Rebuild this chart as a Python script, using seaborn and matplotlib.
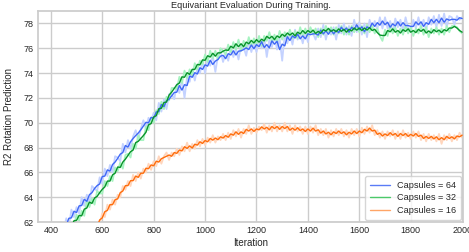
import numpy as np
import pandas as pd
import seaborn as sns
import matplotlib.pyplot as plt
from matplotlib.lines import Line2D

# raw R2 values every 10 iterations
iters_64 = list(range(400, 2001, 10))
r2_64 = [
    60.9, 60.4, 61.5, 61.0, 62.0, 61.3, 62.3, 61.6, 63.0, 62.4,
    63.2, 62.7, 64.0, 63.3, 64.2, 63.5, 64.9, 64.7, 64.5, 65.6,
    65.1, 66.3, 65.7, 66.6, 66.0, 67.3, 67.2, 66.9, 68.3, 67.6,
    68.6, 67.9, 68.9, 69.4, 68.6, 69.5, 70.2, 69.5, 70.4, 70.1,
    70.8, 70.2, 71.6, 70.9, 71.9, 71.1, 72.3, 72.3, 71.9, 73.1,
    72.4, 73.5, 72.0, 73.7, 73.3, 74.3, 73.4, 74.4, 74.0, 74.9,
    74.0, 75.1, 74.6, 75.4, 74.1, 75.4, 75.8, 74.9, 75.6, 75.0,
    76.1, 75.3, 76.0, 75.1, 76.2, 76.1, 75.4, 76.6, 75.7, 76.5,
    75.7, 76.7, 76.0, 76.9, 75.3, 76.7, 76.1, 77.0, 75.9, 76.8,
    75.0, 77.2, 76.4, 77.2, 76.3, 77.5, 76.7, 77.2, 76.4, 77.4,
    76.5, 77.6, 77.2, 76.7, 77.6, 76.9, 77.9, 76.7, 77.6, 77.1,
    77.7, 76.7, 77.9, 77.2, 78.0, 77.1, 77.8, 77.0, 78.3, 77.3,
    78.1, 77.1, 78.0, 76.9, 78.3, 77.6, 78.2, 77.5, 78.5, 77.6,
    78.5, 77.6, 78.2, 77.3, 78.4, 77.7, 78.3, 77.4, 78.5, 77.6,
    77.4, 78.3, 77.6, 78.5, 77.6, 78.3, 77.4, 78.5, 77.9, 78.6,
    77.7, 78.7, 77.8, 78.8, 77.7, 78.6, 78.5, 77.9, 78.6, 78.3,
    78.5,
]

iters_32 = list(range(400, 2001, 10))
r2_32 = [
    60.1, 59.7, 60.7, 60.3, 61.1, 60.6, 61.7, 61.3, 62.0, 61.7,
    62.6, 62.1, 62.9, 62.5, 63.7, 63.2, 63.9, 63.4, 64.5, 64.3,
    64.3, 65.3, 64.9, 65.7, 65.3, 66.4, 66.1, 66.8, 66.3, 67.4,
    67.5, 67.2, 68.3, 67.9, 69.0, 68.6, 68.6, 69.7, 69.4, 70.4,
    70.0, 71.0, 70.7, 71.7, 71.1, 72.1, 71.8, 72.8, 72.8, 72.7,
    73.7, 73.2, 74.2, 73.6, 74.3, 73.8, 74.8, 74.3, 75.0, 74.7,
    75.5, 74.9, 75.8, 75.2, 75.8, 75.1, 76.0, 75.8, 75.5, 76.3,
    75.7, 76.5, 75.9, 76.7, 75.8, 76.6, 76.0, 76.9, 76.2, 76.8,
    76.3, 77.0, 76.2, 77.0, 76.6, 77.3, 76.5, 77.1, 76.5, 77.4,
    76.7, 77.3, 76.9, 77.5, 76.8, 77.4, 76.8, 77.7, 77.0, 77.6,
    77.0, 77.7, 77.1, 77.6, 76.9, 77.6, 77.1, 77.8, 77.3, 77.7,
    77.1, 77.7, 77.2, 77.8, 77.1, 77.7, 77.1, 77.8, 77.3, 77.8,
    77.3, 77.8, 77.2, 77.9, 77.3, 77.8, 77.2, 77.6, 77.0, 76.6,
    77.5, 77.0, 77.8, 77.2, 77.7, 77.0, 77.6, 77.1, 77.8, 77.2,
    77.7, 77.0, 77.6, 77.2, 77.8, 77.1, 77.7, 76.9, 77.6, 77.2,
    77.7, 77.1, 77.6, 77.1, 77.8, 77.3, 77.8, 77.8, 77.7, 77.4,
    77.2,
]

iters_16 = list(range(540, 2001, 10))
r2_16 = [
    60.8, 60.6, 61.4, 61.1, 61.9, 61.9,
    62.7, 62.4, 63.4, 63.0, 63.8, 63.4, 64.2, 64.0, 64.9, 64.6,
    65.3, 64.9, 65.8, 65.3, 66.0, 65.5, 66.3, 66.0, 66.7, 66.2,
    66.9, 66.5, 67.3, 66.7, 67.3, 67.6, 67.0, 67.6, 67.3, 67.9,
    67.4, 68.1, 67.7, 68.4, 67.7, 68.3, 67.9, 68.6, 68.1, 68.7,
    68.2, 68.8, 68.4, 69.0, 68.4, 68.9, 68.6, 69.1, 68.6, 69.2,
    68.7, 69.4, 68.9, 69.5, 68.8, 69.5, 69.1, 69.8, 69.1, 69.6,
    69.2, 69.7, 69.4, 69.9, 69.2, 69.8, 69.3, 70.0, 69.3, 69.8,
    69.3, 70.0, 69.3, 69.8, 69.1, 69.8, 69.3, 69.7, 69.1, 69.7,
    69.1, 69.7, 69.2, 69.8, 69.0, 69.5, 69.0, 69.5, 68.8, 69.4,
    68.9, 69.5, 69.0, 69.5, 68.9, 69.4, 68.8, 69.5, 69.0, 69.5,
    68.9, 69.6, 69.1, 69.7, 69.2, 69.8, 69.0, 69.4, 68.8, 69.3,
    68.7, 69.3, 68.9, 69.4, 68.7, 69.3, 68.7, 69.4, 68.8, 69.2,
    68.7, 69.3, 68.8, 69.3, 68.6, 69.1, 68.5, 69.1, 68.6, 69.0,
    68.5, 69.1, 68.3, 69.0, 68.6, 69.1, 68.5, 69.0, 68.6, 69.2,
    68.8,
]

labels = ["Capsules = 64", "Capsules = 32", "Capsules = 16"]
line_colors = ["#3f68f6", "#08942a", "#ff6d0c"]
raw_colors = ["#c4d2ff", "#a6f3c0", "#ffd6bd"]
legend_colors = ["#5a7bf6", "#4cc96a", "#ffa566"]

sns.set_theme(style="whitegrid")
plt.rcParams["font.family"] = ["Liberation Sans", "DejaVu Sans"]

fig, ax = plt.subplots(figsize=(4.69, 2.52), dpi=100)
fig.subplots_adjust(left=0.081, right=0.987, top=0.956, bottom=0.119)

series = [(iters_64, r2_64), (iters_32, r2_32), (iters_16, r2_16)]

# faint raw curves first
for (x, y), c in zip(series, raw_colors):
    sns.lineplot(x=x, y=y, ax=ax, color=c, linewidth=1.3, zorder=2)

# smoothed curves on top
for (x, y), c in zip(series, line_colors):
    smooth = pd.Series(y).rolling(3, center=True, min_periods=1).mean()
    sns.lineplot(x=x, y=smooth.values, ax=ax, color=c, linewidth=1.0, zorder=3)

ax.set_xlim(350, 2003)
ax.set_ylim(62, 79)
ax.set_xticks(range(400, 2001, 200))
ax.set_yticks(range(62, 79, 2))
ax.tick_params(labelsize=6.5, length=0, pad=3)
ax.set_xlabel("Iteration", fontsize=7, labelpad=2)
ax.set_ylabel("R2 Rotation Prediction", fontsize=7, labelpad=7)
ax.set_title("Equivariant Evaluation During Training.", fontsize=6.6, pad=2)

handles = [Line2D([0], [0], color=c, linewidth=1.0) for c in legend_colors]
ax.legend(handles, labels, loc="lower right", fontsize=6.6, frameon=True,
          handlelength=2.1, borderpad=0.55, labelspacing=0.4,
          borderaxespad=0.2)

plt.savefig("out.png", dpi=100)
